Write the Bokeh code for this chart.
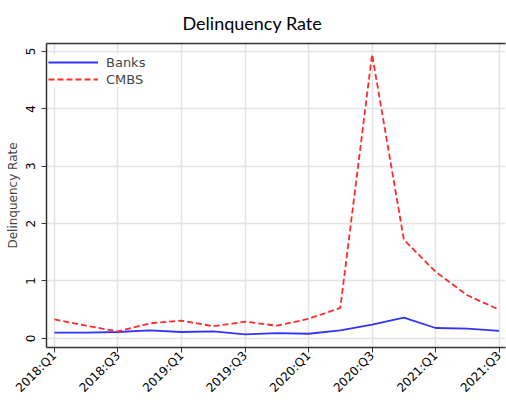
import math
from bokeh.plotting import figure
from bokeh.models import FixedTicker, LinearAxis, Range1d, Legend, LegendItem
from bokeh.embed import file_html
from bokeh.resources import INLINE

quarters = ["2018:Q1", "2018:Q2", "2018:Q3", "2018:Q4",
            "2019:Q1", "2019:Q2", "2019:Q3", "2019:Q4",
            "2020:Q1", "2020:Q2", "2020:Q3", "2020:Q4",
            "2021:Q1", "2021:Q2", "2021:Q3"]
banks = [0.10, 0.10, 0.11, 0.14, 0.11, 0.12, 0.07, 0.09,
         0.08, 0.14, 0.24, 0.36, 0.18, 0.17, 0.13]
cmbs = [0.33, 0.22, 0.12, 0.26, 0.31, 0.21, 0.29, 0.22,
        0.34, 0.53, 4.95, 1.72, 1.16, 0.75, 0.50]
y_ticks = [0, 1, 2, 3, 4, 5]

x = list(range(len(quarters)))

p = figure(frame_width=459, frame_height=304, output_backend="svg", toolbar_location=None,
           x_range=Range1d(-0.25, 14.2), y_range=Range1d(-0.16, 5.14),
           min_border_left=46, min_border_right=1, min_border_top=43, min_border_bottom=53)
p.outline_line_color = None
p.background_fill_color = "white"

p.title.text = "Delinquency Rate"
p.title.align = "left"
p.title.offset = 136
p.title.standoff = 19
p.title.text_font = "Lato"
p.title.text_font_size = "18px"
p.title.text_font_style = "normal"
p.title.text_color = "black"

lb = p.line(x, banks, line_color="#3333ff", line_width=1.8)
lc = p.line(x, cmbs, line_color="#ff2a2a", line_width=1.8, line_dash="6 3")

tick_idx = list(range(0, len(quarters), 2))
xa = p.xaxis[0]
xa.ticker = FixedTicker(ticks=tick_idx)
xa.major_label_overrides = {i: quarters[i] for i in tick_idx}
xa.major_label_orientation = math.pi / 4
xa.minor_tick_line_color = None
xa.major_label_text_font = "DejaVu Sans"
xa.major_label_text_font_size = "12px"
xa.major_label_text_color = "black"
xa.major_label_standoff = 1
xa.axis_line_color = "#333333"
xa.axis_line_width = 1.5
xa.major_tick_line_color = "#333333"
xa.major_tick_out = 5
xa.major_tick_in = 0

ya = p.yaxis[0]
ya.ticker = FixedTicker(ticks=y_ticks)
ya.minor_tick_line_color = None
ya.major_label_orientation = "vertical"
ya.major_label_text_font = "DejaVu Sans"
ya.major_label_text_font_size = "12px"
ya.major_label_text_color = "black"
ya.major_label_standoff = 6
ya.axis_label = "Delinquency Rate"
ya.axis_label_text_font = "DejaVu Sans"
ya.axis_label_text_font_size = "12px"
ya.axis_label_text_font_style = "normal"
ya.axis_label_standoff = 4
ya.axis_line_color = "#333333"
ya.axis_line_width = 1.5
ya.major_tick_line_color = "#333333"
ya.major_tick_out = 5
ya.major_tick_in = 0

top = LinearAxis(ticker=FixedTicker(ticks=[]), major_label_text_font_size="0px",
                 major_label_standoff=0, major_tick_out=0, major_tick_in=0,
                 axis_line_color="#333333", axis_line_width=1.5,
                 major_tick_line_color=None, minor_tick_line_color=None)
p.add_layout(top, "above")

p.xgrid.ticker = FixedTicker(ticks=tick_idx)
p.xgrid.grid_line_color = "#e3e3e3"
p.xgrid.grid_line_width = 1.5
p.ygrid.ticker = FixedTicker(ticks=y_ticks)
p.ygrid.grid_line_color = "#e3e3e3"
p.ygrid.grid_line_width = 1.5

legend = Legend(items=[LegendItem(label="Banks", renderers=[lb]),
                       LegendItem(label="CMBS", renderers=[lc])],
                location=(2, 260))
legend.label_text_font = "DejaVu Sans"
legend.label_text_font_size = "13px"
legend.label_standoff = 8
legend.glyph_width = 50
legend.glyph_height = 16
legend.label_height = 16
legend.spacing = 1
legend.padding = 8
legend.margin = 0
legend.border_line_color = None
legend.background_fill_color = "white"
legend.background_fill_alpha = 1.0
p.add_layout(legend)

open("out.html", "w").write(file_html(p, INLINE))
